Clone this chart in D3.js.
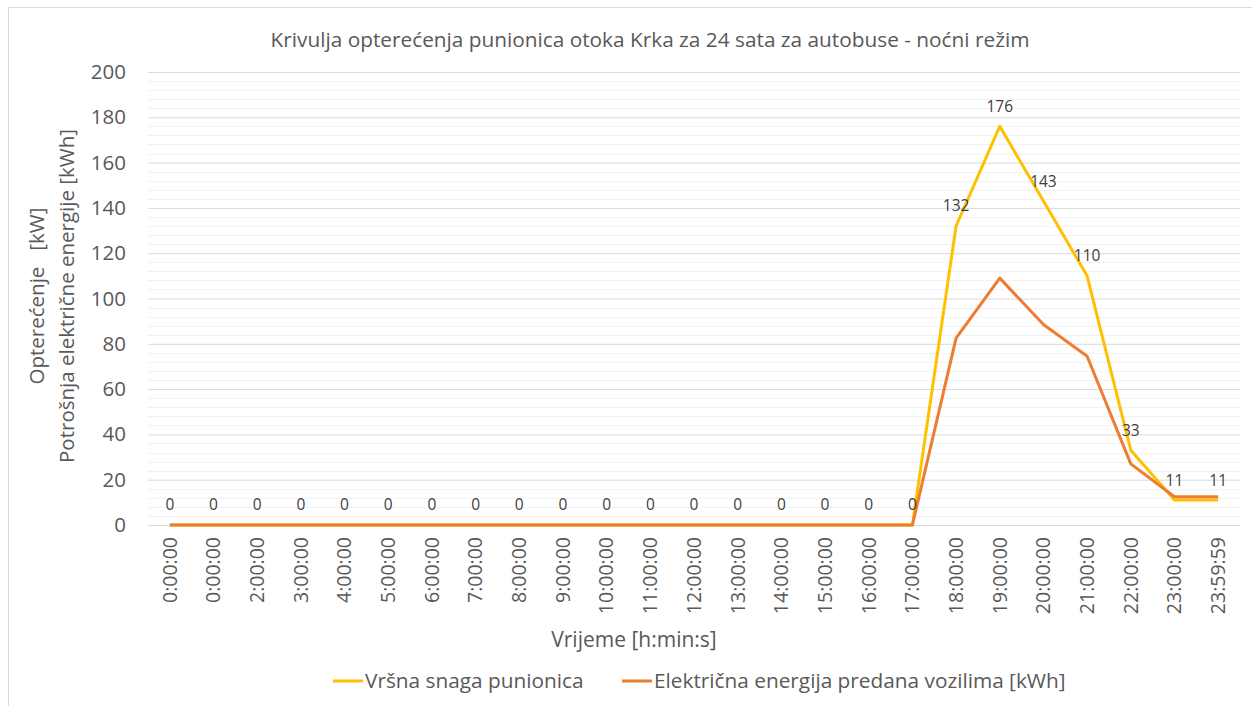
<!DOCTYPE html>
<html>
<head>
<meta charset="utf-8">
<script src="https://cdn.jsdelivr.net/npm/d3@7"></script>
<style>
  html, body { margin: 0; padding: 0; background: #fff; }
  svg { display: block; font-family: "Open Sans", sans-serif; }
</style>
</head>
<body>
<svg id="chart" width="1252" height="706"></svg>
<script>
// Hourly time stamps on the category axis
const categories = ["0:00:00", "0:00:00", "2:00:00", "3:00:00", "4:00:00", "5:00:00", "6:00:00",
  "7:00:00", "8:00:00", "9:00:00", "10:00:00", "11:00:00", "12:00:00", "13:00:00", "14:00:00",
  "15:00:00", "16:00:00", "17:00:00", "18:00:00", "19:00:00", "20:00:00", "21:00:00", "22:00:00",
  "23:00:00", "23:59:59"];

// Peak charging power [kW]
const peakPower = [0, 0, 0, 0, 0, 0, 0, 0, 0, 0, 0, 0, 0, 0, 0, 0, 0, 0, 132, 176, 143, 110, 33, 11, 11];

// Energy delivered to vehicles [kWh]
const energyDelivered = [0, 0, 0, 0, 0, 0, 0, 0, 0, 0, 0, 0, 0, 0, 0, 0, 0, 0, 82.5, 109, 88.5, 74.5, 27, 12.5, 12.5];

const yTicks = [0, 20, 40, 60, 80, 100, 120, 140, 160, 180, 200];
const seriesNames = ["Vršna snaga punionica", "Električna energija predana vozilima [kWh]"];
const seriesColors = ["#FFC000", "#ED7D31"];

const svg = d3.select("#chart");
const margin = { left: 148, right: 12, top: 72, bottom: 181 };
const W = 1252, H = 706;
const plotW = W - margin.left - margin.right;
const plotH = H - margin.top - margin.bottom;
const textColor = "#595959";

// chart frame
svg.append("rect")
  .attr("x", 8.5).attr("y", 7.5)
  .attr("width", 1250).attr("height", 700)
  .attr("fill", "#fff").attr("stroke", "#d9d9d9").attr("stroke-width", 1);

const g = svg.append("g").attr("transform", `translate(${margin.left},${margin.top})`);

const x = d3.scaleBand().domain(d3.range(categories.length)).range([0, plotW]).padding(0);
const xc = i => x(i) + x.bandwidth() / 2;
const y = d3.scaleLinear().domain([0, 200]).range([plotH, 0]);

// minor gridlines every 4
const minor = d3.range(0, 201, 4).filter(v => v % 20 !== 0);
g.append("g").selectAll("line").data(minor).join("line")
  .attr("x1", 0).attr("x2", plotW)
  .attr("y1", d => Math.round(y(d)) + 0.5).attr("y2", d => Math.round(y(d)) + 0.5)
  .attr("stroke", "#f2f2f2").attr("stroke-width", 1);

// major gridlines and value axis
const yAxis = d3.axisLeft(y).tickValues(yTicks).tickSize(-plotW).tickPadding(22);
const ya = g.append("g").call(yAxis).attr("font-family", null);
ya.select(".domain").remove();
ya.selectAll(".tick line").attr("stroke", "#d9d9d9").attr("stroke-width", 1);
ya.selectAll(".tick text")
  .attr("fill", textColor).attr("font-size", 20.5);

// category axis
const xAxis = d3.axisBottom(x).tickFormat(i => categories[i]).tickSize(0).tickPadding(0);
const xa = g.append("g").attr("transform", `translate(0,${plotH})`).call(xAxis).attr("font-family", null);
xa.select(".domain").attr("stroke", "#d9d9d9");
xa.selectAll(".tick text")
  .attr("fill", textColor).attr("font-size", 19.5)
  .attr("text-anchor", "end")
  .attr("dy", "0.35em")
  .attr("transform", "translate(0,12) rotate(-90)")
  .attr("x", 0).attr("y", 0);

// lines
const line = d3.line().x((d, i) => xc(i)).y(d => y(d));
[peakPower, energyDelivered].forEach((vals, k) => {
  g.append("path").datum(vals)
    .attr("fill", "none")
    .attr("stroke", seriesColors[k])
    .attr("stroke-width", 3)
    .attr("stroke-linejoin", "round")
    .attr("d", line);
});

// data labels for peak power
g.append("g").selectAll("text").data(peakPower).join("text")
  .attr("x", (d, i) => xc(i))
  .attr("y", d => y(d) - 20)
  .attr("dy", "0.35em")
  .attr("text-anchor", "middle")
  .attr("font-size", 15.5)
  .attr("fill", "#404040")
  .text(d => d);

// title
svg.append("text")
  .attr("x", 650).attr("y", 40).attr("dy", "0.35em")
  .attr("text-anchor", "middle")
  .attr("font-size", 20.8).attr("fill", textColor)
  .text("Krivulja opterećenja punionica otoka Krka za 24 sata za autobuse - noćni režim");

// value axis title (two lines)
const yTitle = svg.append("text")
  .attr("transform", "translate(52,296) rotate(-90)")
  .attr("text-anchor", "middle")
  .attr("font-size", 20.5).attr("fill", textColor)
  .attr("xml:space", "preserve");
yTitle.append("tspan").attr("x", 0).attr("dy", "-0.4em").text("Opterećenje   [kW]");
yTitle.append("tspan").attr("x", 0).attr("dy", "1.45em").text("Potrošnja električne energije [kWh]");

// category axis title
svg.append("text")
  .attr("x", 634).attr("y", 640).attr("dy", "0.35em")
  .attr("text-anchor", "middle")
  .attr("font-size", 21).attr("fill", textColor)
  .text("Vrijeme [h:min:s]");

// legend
const legendX = [333, 622];
seriesNames.forEach((name, k) => {
  const lg = svg.append("g").attr("transform", `translate(${legendX[k]},681)`);
  lg.append("line").attr("x1", 0).attr("x2", 30).attr("y1", 0).attr("y2", 0)
    .attr("stroke", seriesColors[k]).attr("stroke-width", 3);
  lg.append("text").attr("x", 32).attr("y", 0).attr("dy", "0.35em")
    .attr("font-size", 20.8).attr("fill", textColor).text(name);
});
</script>
</body>
</html>
